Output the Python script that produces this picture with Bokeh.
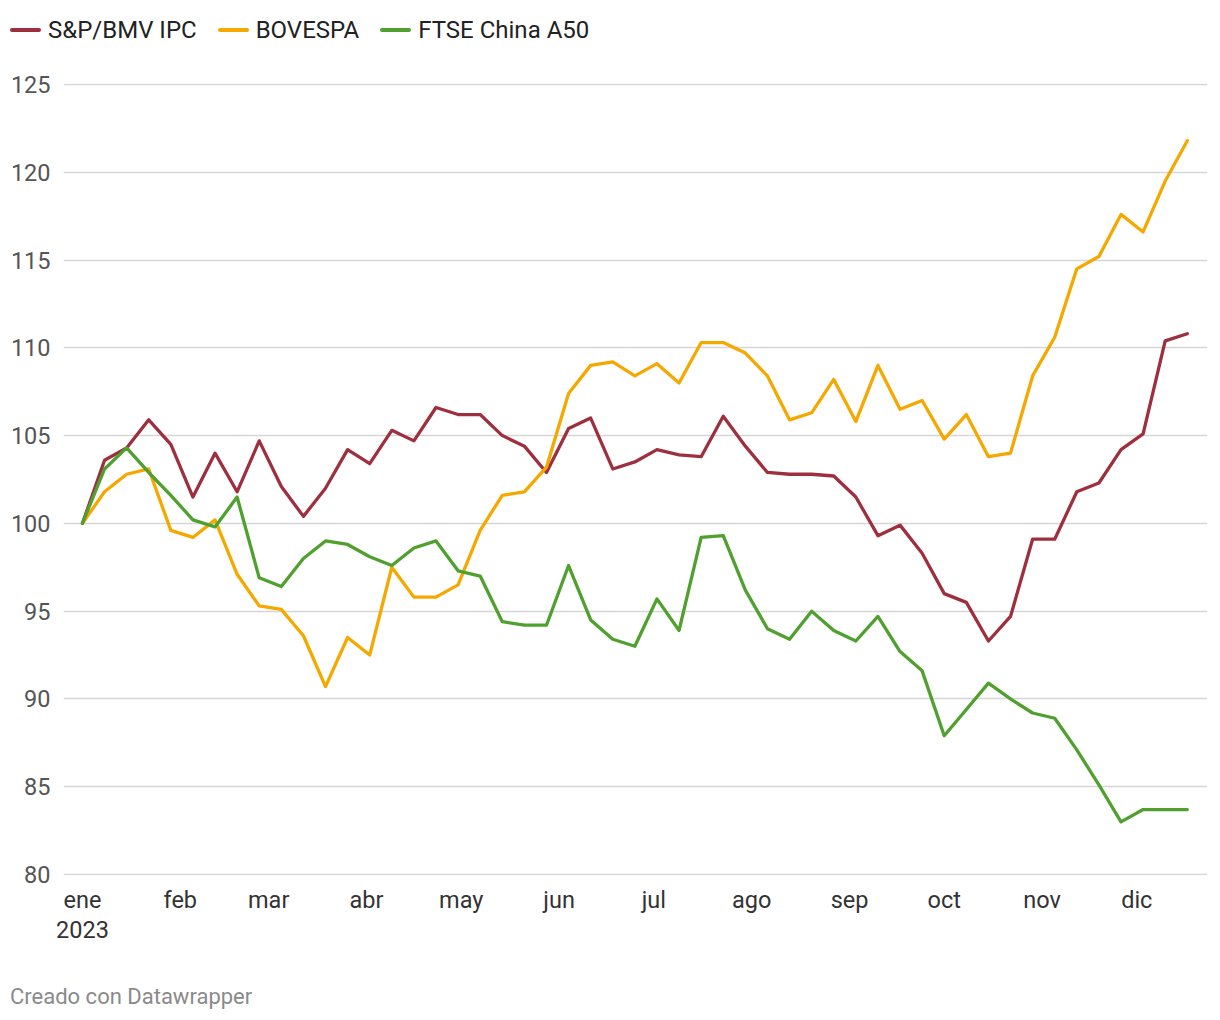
import pandas as pd
from bokeh.plotting import figure
from bokeh.layouts import column
from bokeh.models import Range1d, FixedTicker, LinearAxis, Div
from bokeh.embed import file_html
from bokeh.resources import INLINE

# ---- data ----
dates = pd.date_range("2023-01-01", periods=51, freq="7D")

ipc = [100.0, 103.6, 104.3, 105.9, 104.5, 101.5, 104.0, 101.8, 104.7, 102.1,
       100.4, 102.0, 104.2, 103.4, 105.3, 104.7, 106.6, 106.2, 106.2, 105.0,
       104.4, 102.9, 105.4, 106.0, 103.1, 103.5, 104.2, 103.9, 103.8, 106.1,
       104.4, 102.9, 102.8, 102.8, 102.7, 101.5, 99.3, 99.9, 98.3, 96.0,
       95.5, 93.3, 94.7, 99.1, 99.1, 101.8, 102.3, 104.2, 105.1, 110.4, 110.8]

bovespa = [100.0, 101.8, 102.8, 103.1, 99.6, 99.2, 100.2, 97.1, 95.3, 95.1,
           93.6, 90.7, 93.5, 92.5, 97.5, 95.8, 95.8, 96.5, 99.6, 101.6,
           101.8, 103.2, 107.4, 109.0, 109.2, 108.4, 109.1, 108.0, 110.3, 110.3,
           109.7, 108.4, 105.9, 106.3, 108.2, 105.8, 109.0, 106.5, 107.0, 104.8,
           106.2, 103.8, 104.0, 108.4, 110.6, 114.5, 115.2, 117.6, 116.6, 119.5, 121.8]

a50 = [100.0, 103.1, 104.3, 102.9, 101.6, 100.2, 99.8, 101.5, 96.9, 96.4,
       98.0, 99.0, 98.8, 98.1, 97.6, 98.6, 99.0, 97.3, 97.0, 94.4,
       94.2, 94.2, 97.6, 94.5, 93.4, 93.0, 95.7, 93.9, 99.2, 99.3,
       96.2, 94.0, 93.4, 95.0, 93.9, 93.3, 94.7, 92.7, 91.6, 87.9,
       89.4, 90.9, 90.0, 89.2, 88.9, 87.1, 85.1, 83.0, 83.7, 83.7, 83.7]

series_names = ["S&P/BMV IPC", "BOVESPA", "FTSE China A50"]
series_colors = ["#9e2f3e", "#f5a800", "#4fa02e"]

month_starts = ["2023-01-01", "2023-02-01", "2023-03-01", "2023-04-01", "2023-05-01",
                "2023-06-01", "2023-07-01", "2023-08-01", "2023-09-01", "2023-10-01",
                "2023-11-01", "2023-12-01"]
month_labels = ["ene", "feb", "mar", "abr", "may", "jun", "jul", "ago", "sep", "oct", "nov", "dic"]
year_label = "2023"
y_ticks = [80, 85, 90, 95, 100, 105, 110, 115, 120, 125]
footer_text = "Creado con Datawrapper"

# ---- derived ----
base = pd.Timestamp("2023-01-01")
xs = [(d - base).days for d in dates]
tick_days = [(pd.Timestamp(m) - base).days for m in month_starts]

FONT = "Roboto"
FS = "23.5px"
W = 1212
LEG_H = 60
FOOT_H = 57


def esc(s):
    return s.replace("&", "&amp;").replace("<", "&lt;").replace(">", "&gt;")


# ---------- legend strip (HTML) ----------
items_html = ""
for n, col in zip(series_names, series_colors):
    items_html += (
        f'<span style="display:inline-block;width:31px;height:4px;border-radius:2px;'
        f'background:{col};margin-right:7px;"></span>'
        f'<span style="margin-right:21px;">{esc(n)}</span>'
    )
legend_div = Div(
    text=(f'<div style="display:flex;align-items:center;height:{LEG_H}px;padding-left:10px;'
          f'font-family:Roboto;font-size:24px;color:#222222;white-space:nowrap;">{items_html}</div>'),
    width=W, height=LEG_H, styles={"margin": "0", "padding": "0"})

# ---------- main chart ----------
p = figure(width=W, height=23 + 792 + 80, output_backend="svg", toolbar_location=None,
           x_range=Range1d(-6.0, 356.4), y_range=Range1d(79.943, 125.057),
           min_border_left=63, min_border_right=5, min_border_top=83 - LEG_H, min_border_bottom=80)
p.outline_line_color = None
p.background_fill_color = "white"
p.border_fill_color = "white"

for vals, col in zip([ipc, bovespa, a50], series_colors):
    p.line(xs, vals, line_color=col, line_width=3.3, line_join="round", line_cap="round")

p.xaxis.ticker = FixedTicker(ticks=tick_days)
p.xaxis.major_label_overrides = {int(t): lab for t, lab in zip(tick_days, month_labels)}
p.xaxis.axis_line_color = None
p.xaxis.major_tick_line_color = None
p.xaxis.minor_tick_line_color = None
p.xaxis.major_label_text_font = FONT
p.xaxis.major_label_text_font_size = FS
p.xaxis.major_label_text_color = "#333333"
p.xaxis.major_label_standoff = 4

year_axis = LinearAxis(ticker=FixedTicker(ticks=[tick_days[0]]),
                       major_label_overrides={int(tick_days[0]): year_label})
year_axis.axis_line_color = None
year_axis.major_tick_line_color = None
year_axis.minor_tick_line_color = None
year_axis.major_label_text_font = FONT
year_axis.major_label_text_font_size = FS
year_axis.major_label_text_color = "#333333"
year_axis.major_label_standoff = -2
p.add_layout(year_axis, "below")

p.yaxis.ticker = FixedTicker(ticks=y_ticks)
p.yaxis.axis_line_color = None
p.yaxis.major_tick_line_color = None
p.yaxis.minor_tick_line_color = None
p.yaxis.major_label_text_font = FONT
p.yaxis.major_label_text_font_size = FS
p.yaxis.major_label_text_color = "#555555"
p.yaxis.major_label_standoff = 7

p.xgrid.grid_line_color = None
p.ygrid.grid_line_color = "#d6d6d6"
p.ygrid.grid_line_width = 1.5

# ---------- footer (HTML) ----------
footer_div = Div(
    text=(f'<div style="padding-left:10px;padding-top:30px;font-family:Roboto;font-size:22px;'
          f'line-height:24px;color:#8a8a8a;white-space:nowrap;">{esc(footer_text)}</div>'),
    width=W, height=FOOT_H, styles={"margin": "0", "padding": "0"})

layout = column(legend_div, p, footer_div, spacing=0)
open("out.html", "w").write(file_html(layout, INLINE))
